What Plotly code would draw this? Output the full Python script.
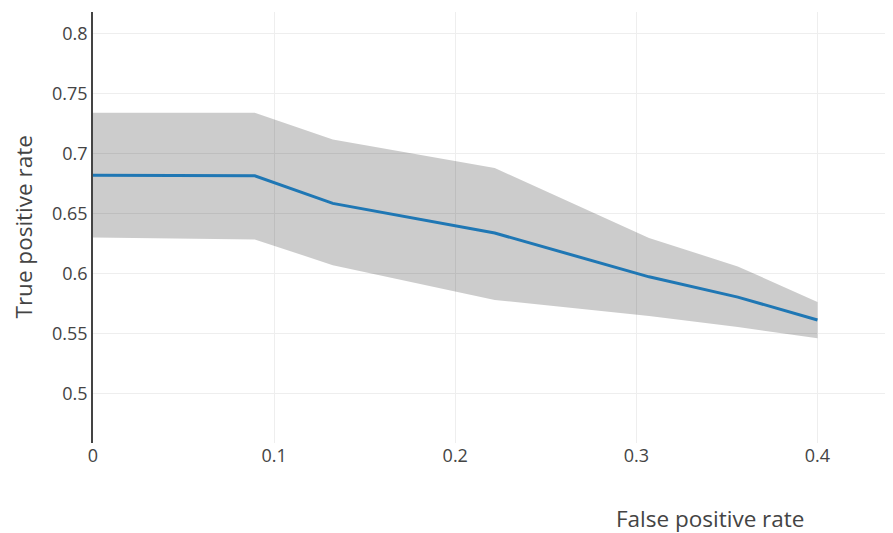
import plotly.graph_objects as go

fpr = [0.0, 0.0893, 0.1324, 0.2218, 0.307, 0.356, 0.4]
tpr_mean = [0.682, 0.6815, 0.6585, 0.6338, 0.5973, 0.5804, 0.5613]
tpr_upper = [0.734, 0.734, 0.7118, 0.688, 0.6296, 0.606, 0.5764]
tpr_lower = [0.630, 0.6285, 0.607, 0.578, 0.5647, 0.5554, 0.5461]

x_ticks = [0, 0.1, 0.2, 0.3, 0.4]
y_ticks = [0.5, 0.55, 0.6, 0.65, 0.7, 0.75, 0.8]

fig = go.Figure()
fig.add_trace(go.Scatter(x=fpr, y=tpr_lower, mode="lines",
                         line=dict(width=0, color="rgba(0,0,0,0)"),
                         showlegend=False, hoverinfo="skip"))
fig.add_trace(go.Scatter(x=fpr, y=tpr_upper, mode="lines", fill="tonexty",
                         fillcolor="rgba(0,0,0,0.2)",
                         line=dict(width=0, color="rgba(0,0,0,0)"),
                         showlegend=False, hoverinfo="skip"))
fig.add_trace(go.Scatter(x=fpr, y=tpr_mean, mode="lines",
                         line=dict(width=3, color="#1f77b4"),
                         showlegend=False))

fig.update_layout(
    width=885, height=525,
    margin=dict(l=85, r=0, t=4, b=90),
    paper_bgcolor="white", plot_bgcolor="white",
    font=dict(family="Open Sans", size=18, color="#444"),
    showlegend=False,
    xaxis=dict(range=[0, 0.4417], tickvals=x_ticks,
               ticktext=[("%g" % v) for v in x_ticks],
               showgrid=True, gridcolor="#eee", gridwidth=1,
               zeroline=False, showline=False, ticks=""),
    yaxis=dict(range=[0.4588, 0.818], tickvals=y_ticks,
               ticktext=[("%g" % v) for v in y_ticks],
               showgrid=True, gridcolor="#eee", gridwidth=1,
               zeroline=False, showline=True, linecolor="#444", linewidth=1.5,
               ticks=""),
    annotations=[
        dict(text="False positive rate", xref="paper", yref="paper",
             x=0.771, y=-0.1763, xanchor="center", yanchor="middle",
             showarrow=False, borderpad=0, font=dict(size=22.5, color="#444")),
        dict(text="True positive rate", xref="paper", yref="paper",
             x=-0.0875, y=0.5, xanchor="center", yanchor="middle",
             textangle=-90, showarrow=False, borderpad=0,
             font=dict(size=22.5, color="#444")),
    ],
)

fig.write_html("out.html")
